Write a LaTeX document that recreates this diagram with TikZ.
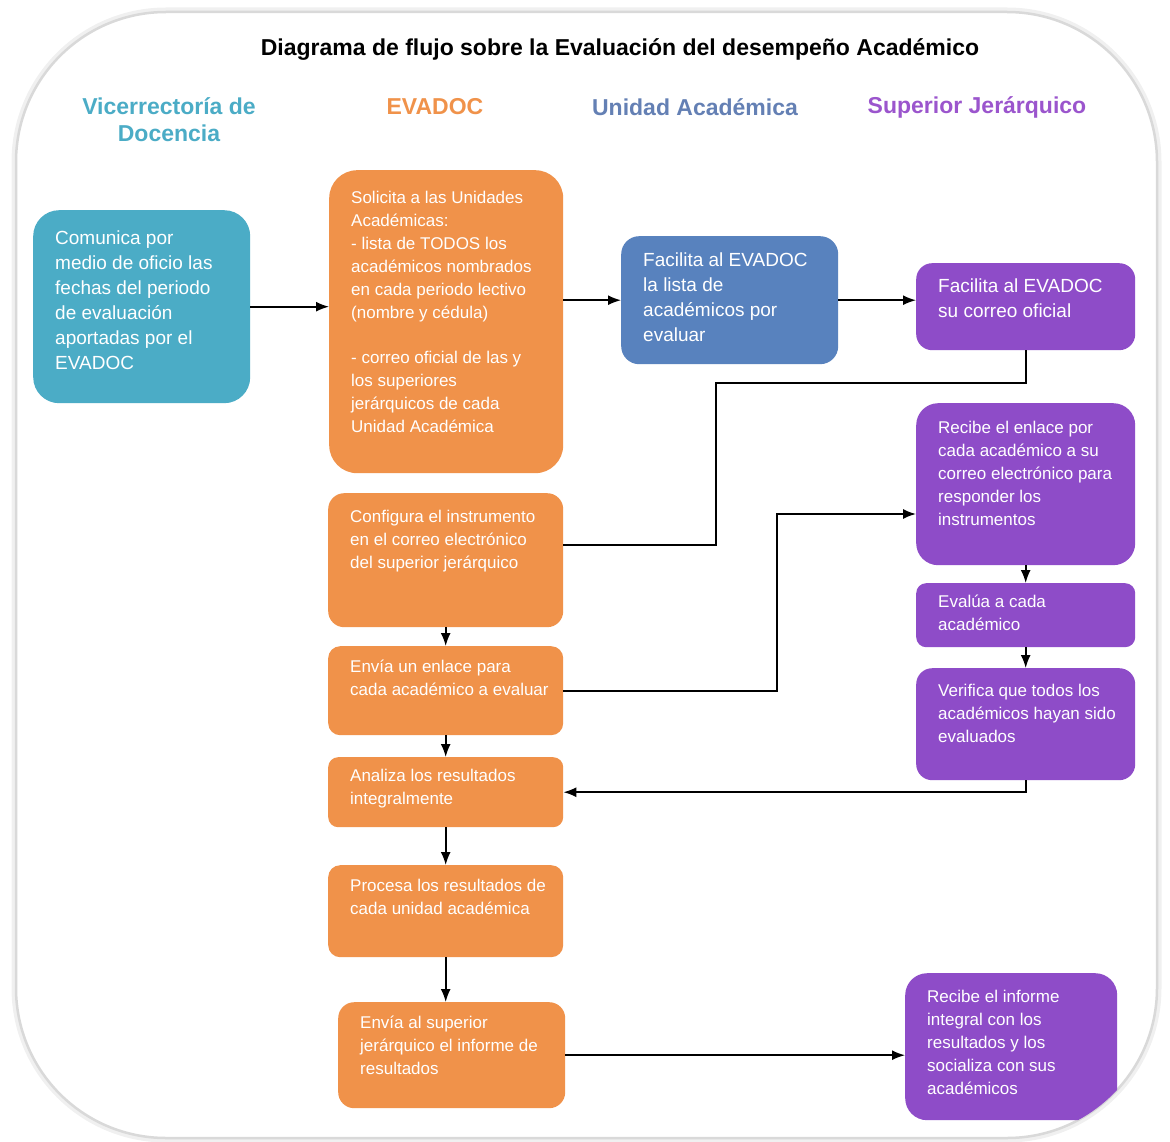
\documentclass[tikz,border=0pt]{standalone}
\usepackage{fontspec}
\setmainfont{Liberation Sans}
\usetikzlibrary{arrows.meta}

\definecolor{vdcolor}{RGB}{75,172,198}
\definecolor{evcolor}{RGB}{240,146,74}
\definecolor{uacolor}{RGB}{88,130,190}
\definecolor{sjcolor}{RGB}{142,76,200}
\definecolor{uatitulo}{RGB}{100,128,180}
\definecolor{sjtitulo}{RGB}{155,85,205}

% ancho, alto, espacio arriba, texto
\newcommand{\textocaja}[4]{\parbox[c][#2pt][t]{#1pt}{\vspace{#3pt}\raggedright\leftskip=22pt\relax #4}}

\tikzset{
  caja/.style={rounded corners=16pt, inner sep=0pt, anchor=north west, text=white, font=\fontsize{17}{23}\selectfont},
  cajagrande/.style={caja, rounded corners=26pt, font=\fontsize{19}{25}\selectfont},
  flecha/.style={line width=1.6pt, -{Latex[length=13pt,width=10pt]}},
  linea/.style={line width=1.6pt},
  carril/.style={font=\fontsize{23}{27}\selectfont\bfseries, align=center},
}

\begin{document}
\begin{tikzpicture}[x=1pt,y=1pt,yscale=-1]
        \useasboundingbox (0,0) rectangle (1170,1142);

        %Shape: Rounded Rect (fondo)
        \draw[gray!12, line width=9pt, rounded corners=150pt] (16,12) rectangle (1157,1138);
        \fill[white, draw=gray!30, line width=2.5pt, rounded corners=150pt] (16,12) rectangle (1157,1138);

        % Text Node
        \node[font=\fontsize{23}{27}\selectfont\bfseries] (titulo) at (620,50) {Diagrama de flujo sobre la Evaluación del desempeño Académico};
        % Text Node
        \node[carril, text=vdcolor] (vicerrectoria) at (169,120) {Vicerrectoría de\\Docencia};
        % Text Node
        \node[carril, text=evcolor] (evadoc) at (435,107) {EVADOC};
        % Text Node
        \node[carril, text=uatitulo] (unidad) at (695,107) {Unidad Académica};
        % Text Node
        \node[carril, text=sjtitulo] (superior) at (977,107) {Superior Jerárquico};

        \begin{scope}
        \clip[rounded corners=150pt] (16,12) rectangle (1157,1138);

        %Shape: Rounded Rect
        \node[cajagrande, fill=vdcolor] (vd) at (33,210) {\textocaja{217}{193}{21}{Comunica por\\medio de oficio las\\fechas del periodo\\de evaluación\\aportadas por el\\EVADOC}};
        %Shape: Rounded Rect
        \node[caja, rounded corners=28pt, fill=evcolor] (ev1) at (329,170) {\textocaja{234}{303}{21}{Solicita a las Unidades\\Académicas:\\- lista de TODOS los\\académicos nombrados\\en cada periodo lectivo\\(nombre y cédula)\\[22pt]- correo oficial de las y\\los superiores\\jerárquicos de cada\\Unidad Académica}};
        %Shape: Rounded Rect
        \node[cajagrande, rounded corners=18pt, fill=uacolor] (ua) at (621,236) {\textocaja{217}{128}{17}{Facilita al EVADOC\\la lista de\\académicos por\\evaluar}};
        %Shape: Rounded Rect
        \node[cajagrande, rounded corners=16pt, fill=sjcolor] (sj1) at (916,263) {\textocaja{219}{87}{16}{Facilita al EVADOC\\su correo oficial}};
        %Shape: Rounded Rect
        \node[caja, rounded corners=22pt, fill=sjcolor] (sj2) at (916,403) {\textocaja{219}{162}{18}{Recibe el enlace por\\cada académico a su\\correo electrónico para\\responder los\\instrumentos}};
        %Shape: Rounded Rect
        \node[caja, rounded corners=10pt, fill=sjcolor] (sj3) at (916,583) {\textocaja{219}{64}{12}{Evalúa a cada\\académico}};
        %Shape: Rounded Rect
        \node[caja, fill=sjcolor] (sj4) at (916,668) {\textocaja{219}{112}{16}{Verifica que todos los\\académicos hayan sido\\evaluados}};
        %Shape: Rounded Rect
        \node[caja, fill=evcolor] (ev2) at (328,493) {\textocaja{235}{134}{17}{Configura el instrumento\\en el correo electrónico\\del superior jerárquico}};
        %Shape: Rounded Rect
        \node[caja, rounded corners=12pt, fill=evcolor] (ev3) at (328,646) {\textocaja{235}{89}{14}{Envía un enlace para\\cada académico a evaluar}};
        %Shape: Rounded Rect
        \node[caja, rounded corners=10pt, fill=evcolor] (ev4) at (328,757) {\textocaja{235}{70}{12}{Analiza los resultados\\integralmente}};
        %Shape: Rounded Rect
        \node[caja, rounded corners=12pt, fill=evcolor] (ev5) at (328,865) {\textocaja{235}{92}{14}{Procesa los resultados de\\cada unidad académica}};
        %Shape: Rounded Rect
        \node[caja, fill=evcolor] (ev6) at (338,1002) {\textocaja{227}{106}{14}{Envía al superior\\jerárquico el informe de\\resultados}};
        %Shape: Rounded Rect
        \node[caja, rounded corners=22pt, fill=sjcolor] (sj5) at (905,973) {\textocaja{212}{147}{17}{Recibe el informe\\integral con los\\resultados y los\\socializa con sus\\académicos}};

        \coordinate (codo1) at (716,383);
        \coordinate (codo2) at (716,545);
        \coordinate (codo3) at (777,514);

        %Straight Lines
        \draw[flecha] (vd.east) -- (vd.east -| ev1.west);
        \draw[flecha] (ev1.east |- ua.west) -- (ua.west);
        \draw[flecha] (ua.east) -- (ua.east -| sj1.west);
        %Straight Lines
        \draw[linea] (sj1.south) |- (codo1) -- (codo2) -- (codo2 -| ev2.east);
        \draw[flecha] (ev3.east) -| (codo3) -- (codo3 -| sj2.west);
        %Straight Lines
        \draw[flecha] (sj2.south) -- (sj3.north);
        \draw[flecha] (sj3.south) -- (sj4.north);
        \draw[flecha] (sj4.south) |- (ev4.east);
        %Straight Lines
        \draw[flecha] (ev2.south) -- (ev3.north);
        \draw[flecha] (ev3.south) -- (ev4.north);
        \draw[flecha] (ev4.south) -- (ev5.north);
        \draw[flecha] (ev5.south) -- (ev5.south |- ev6.north);
        \draw[flecha] (ev6.east) -- (ev6.east -| sj5.west);
        \end{scope}

    \end{tikzpicture}
\end{document}
